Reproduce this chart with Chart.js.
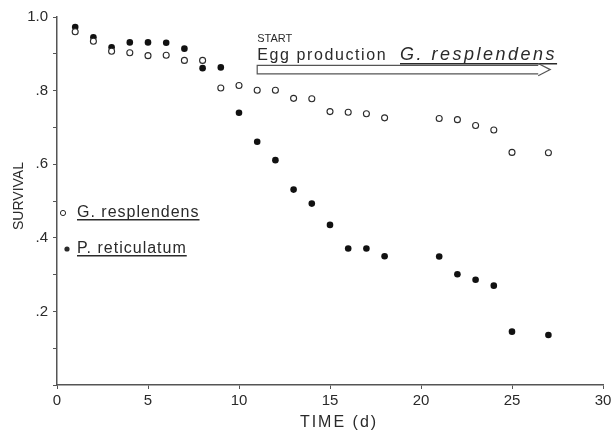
<!DOCTYPE html>
<html>
<head>
<meta charset="utf-8">
<script src="https://cdn.jsdelivr.net/npm/chart.js@4"></script>
<style>
  html, body { margin: 0; padding: 0; background: #fff; }
  #wrap { width: 615px; height: 432px; }
</style>
</head>
<body>
<div id="wrap"><canvas id="survivalChart" width="615" height="432"></canvas></div>
<script>
// Survival data (time in days)
const days = [1, 2, 3, 4, 5, 6, 7, 8, 9, 10, 11, 12, 13, 14, 15, 16, 17, 18, 21, 22, 23, 24, 25, 27];
const gResplendens = [0.960, 0.934, 0.907, 0.903, 0.895, 0.896, 0.882, 0.882, 0.807, 0.814, 0.801, 0.801,
                      0.779, 0.778, 0.743, 0.741, 0.737, 0.726, 0.724, 0.721, 0.705, 0.693, 0.632, 0.631];
const pReticulatum = [0.973, 0.945, 0.918, 0.931, 0.931, 0.930, 0.914, 0.861, 0.863, 0.740, 0.661, 0.611,
                      0.531, 0.493, 0.435, 0.371, 0.371, 0.350, 0.349, 0.301, 0.286, 0.270, 0.145, 0.136];

const seriesNames = ['G. resplendens', 'P. reticulatum'];
const xTitle = 'TIME (d)';
const yTitle = 'SURVIVAL';
const startLabel = 'START';
const eggLabel = 'Egg production';

const ink = '#2a2a2a';
const font = '"Liberation Sans", Arial, sans-serif';

function toPoints(values) {
    return values.map((v, i) => ({ x: days[i], y: v }));
}

// Draws axis titles, the egg production arrow and the in-plot legend
const annotations = {
    id: 'annotations',
    afterDraw(chart) {
        const ctx = chart.ctx;
        const xs = chart.scales.x;
        const ys = chart.scales.y;
        ctx.save();
        ctx.fillStyle = ink;
        ctx.strokeStyle = ink;

        // y title
        ctx.save();
        ctx.font = '14px ' + font;
        ctx.textAlign = 'center';
        ctx.textBaseline = 'middle';
        ctx.translate(19, 196);
        ctx.rotate(-Math.PI / 2);
        ctx.fillText(yTitle, 0, 0);
        ctx.restore();

        // x title
        ctx.save();
        ctx.font = '16px ' + font;
        ctx.letterSpacing = '2px';
        ctx.textAlign = 'center';
        ctx.textBaseline = 'middle';
        ctx.fillText(xTitle, 339, 423);
        ctx.restore();

        // START / Egg production label
        const x0 = xs.getPixelForValue(11);
        const x1 = xs.getPixelForValue(27.1);
        const yArrow = ys.getPixelForValue(0.857);
        ctx.save();
        ctx.textAlign = 'left';
        ctx.textBaseline = 'alphabetic';
        ctx.font = '11px ' + font;
        ctx.fillText(startLabel, x0, 42);
        ctx.font = '16px ' + font;
        ctx.letterSpacing = '1.6px';
        ctx.fillText(eggLabel, x0, 60);
        ctx.font = 'italic 18px ' + font;
        ctx.letterSpacing = '2.5px';
        const gx = 400;
        ctx.fillText(seriesNames[0], gx, 60);
        const gw = ctx.measureText(seriesNames[0]).width;
        ctx.fillRect(gx, 63, gw, 1.5);
        ctx.restore();

        // hollow arrow
        ctx.save();
        ctx.strokeStyle = '#555';
        ctx.lineWidth = 1.2;
        const half = 4.2;
        const head = 12;
        ctx.beginPath();
        ctx.moveTo(x1 - head, yArrow - half);
        ctx.lineTo(x0, yArrow - half);
        ctx.lineTo(x0, yArrow + half);
        ctx.lineTo(x1 - head, yArrow + half);
        ctx.moveTo(x1 - head, yArrow - half - 2);
        ctx.lineTo(x1, yArrow);
        ctx.lineTo(x1 - head, yArrow + half + 2);
        ctx.stroke();
        ctx.restore();

        // legend
        ctx.save();
        ctx.font = '16px ' + font;
        ctx.letterSpacing = '1px';
        ctx.textAlign = 'left';
        ctx.textBaseline = 'middle';
        const legendX = 77;
        const rows = [213, 249];
        const markerX = [63, 67];
        seriesNames.forEach((name, i) => {
            const cy = rows[i];
            ctx.beginPath();
            ctx.arc(markerX[i], cy, 2.6, 0, Math.PI * 2);
            if (i === 0) {
                ctx.lineWidth = 1;
                ctx.stroke();
            } else {
                ctx.fill();
            }
            ctx.fillText(name, legendX, cy);
            const w = ctx.measureText(name).width;
            ctx.fillRect(legendX, cy + 6, w, 1.5);
        });
        ctx.restore();

        ctx.restore();
    }
};

const ctx = document.getElementById('survivalChart').getContext('2d');
const survivalChart = new Chart(ctx, {
    type: 'scatter',
    data: {
        datasets: [{
            label: seriesNames[0],
            data: toPoints(gResplendens),
            pointStyle: 'circle',
            pointRadius: 3,
            pointBorderWidth: 1.1,
            borderColor: ink,
            backgroundColor: '#fff'
        }, {
            label: seriesNames[1],
            data: toPoints(pReticulatum),
            pointStyle: 'circle',
            pointRadius: 3.3,
            pointBorderWidth: 0,
            borderColor: '#111',
            backgroundColor: '#111'
        }]
    },
    options: {
        responsive: false,
        animation: false,
        layout: { padding: { top: 17, right: 12, left: 0, bottom: 0 } },
        plugins: {
            legend: { display: false },
            tooltip: { enabled: false }
        },
        scales: {
            x: {
                type: 'linear',
                min: 0,
                max: 30,
                afterFit: s => { s.height = 47; },
                border: { color: '#555', width: 1.5 },
                grid: { drawOnChartArea: false, tickLength: 4, color: '#555' },
                ticks: {
                    stepSize: 5,
                    padding: 3,
                    color: ink,
                    font: { family: font, size: 15 }
                }
            },
            y: {
                min: 0,
                max: 1,
                afterFit: s => { s.width = 57; },
                border: { color: '#555', width: 1.5 },
                grid: { drawOnChartArea: false, tickLength: 4, color: '#555' },
                ticks: {
                    stepSize: 0.1,
                    padding: 5,
                    autoSkip: false,
                    color: ink,
                    font: { family: font, size: 15 },
                    callback: v => {
                        const t = Math.round(v * 10);
                        if (t === 0 || t % 2 === 1) return '';
                        return t === 10 ? '1.0' : '.' + t;
                    }
                }
            }
        }
    },
    plugins: [annotations]
});
</script>
</body>
</html>
